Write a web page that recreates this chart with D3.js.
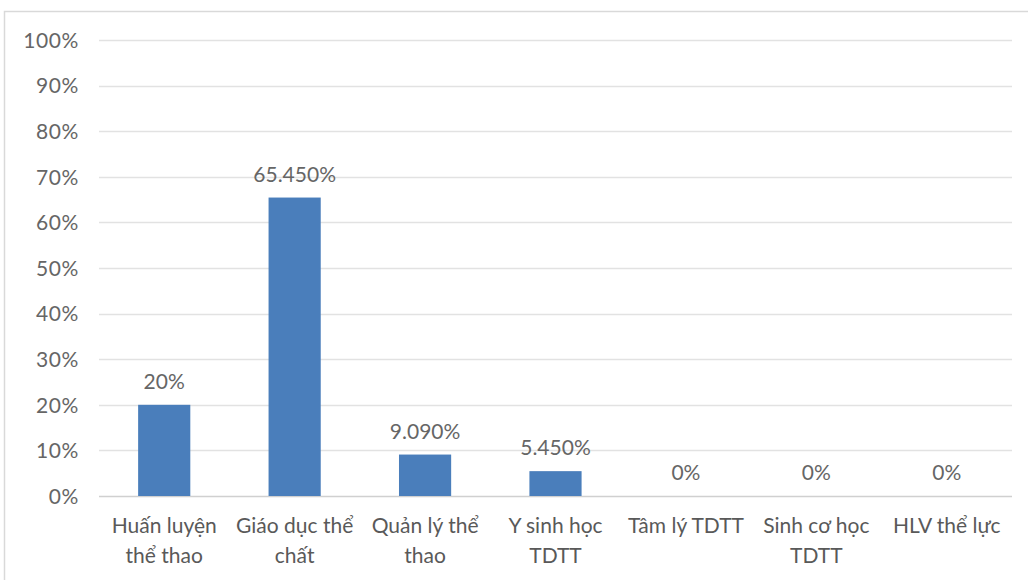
<!DOCTYPE html>
<html><head><meta charset="utf-8">
<script src="https://cdn.jsdelivr.net/npm/d3@7"></script>
<style>body{margin:0;background:#fff;} svg{display:block;}</style>
</head><body>
<script>
const categories = [["Huấn luyện","thể thao"],["Giáo dục thể","chất"],["Quản lý thể","thao"],["Y sinh học","TDTT"],["Tâm lý TDTT"],["Sinh cơ học","TDTT"],["HLV thể lực"]];
const values = [20, 65.45, 9.09, 5.45, 0, 0, 0];
const valueLabels = ["20%","65.450%","9.090%","5.450%","0%","0%","0%"];
const yTicks = [0,10,20,30,40,50,60,70,80,90,100];

const W=1028,H=580;
const font='Lato,"Open Sans",sans-serif';
const svg=d3.select("body").append("svg").attr("width",W).attr("height",H);
svg.append("rect").attr("x",4.5).attr("y",11.5).attr("width",W+10).attr("height",H+10)
  .attr("fill","#fff").attr("stroke","#d9d9d9").attr("stroke-width",1.5);

const x=d3.scaleBand().domain(d3.range(categories.length)).range([99,1012]).paddingInner(0.6).paddingOuter(0.3);
const y=d3.scaleLinear().domain([0,100]).range([496,40]);

const g=svg.append("g");
g.selectAll("line.grid").data(yTicks).join("line")
  .attr("x1",99).attr("x2",1012).attr("y1",d=>Math.round(y(d))+0.5).attr("y2",d=>Math.round(y(d))+0.5)
  .attr("stroke",d=>d===0?"#d0d0d0":"#e2e2e2").attr("stroke-width",d=>d===0?1.6:1.3);

const yAxis=d3.axisLeft(y).tickValues(yTicks).tickFormat(d=>d+"%").tickSize(0).tickPadding(0);
const ya=svg.append("g").attr("transform","translate(79,0)").call(yAxis);
ya.select(".domain").remove();
ya.selectAll("text").attr("font-family",font).attr("font-size",21).attr("letter-spacing",0.6).attr("fill","#666").attr("dy","0.35em");

g.selectAll("rect.bar").data(values).join("rect")
  .attr("x",(d,i)=>x(i)).attr("width",x.bandwidth())
  .attr("y",d=>y(d)).attr("height",d=>y(0)-y(d)).attr("fill","#4a7ebb");

g.selectAll("text.val").data(values).join("text")
  .attr("x",(d,i)=>x(i)+x.bandwidth()/2).attr("y",d=>y(d)-16)
  .attr("text-anchor","middle").attr("font-family",font).attr("font-size",21).attr("fill","#666")
  .text((d,i)=>valueLabels[i]);

const xa=svg.append("g");
categories.forEach((lines,i)=>{
  const t=xa.append("text").attr("x",x(i)+x.bandwidth()/2).attr("y",533)
    .attr("text-anchor","middle").attr("font-family",font).attr("font-size",21).attr("fill","#595959");
  lines.forEach((l,j)=>t.append("tspan").attr("x",x(i)+x.bandwidth()/2).attr("dy",j?29.5:0).text(l));
});
</script>
</body></html>
